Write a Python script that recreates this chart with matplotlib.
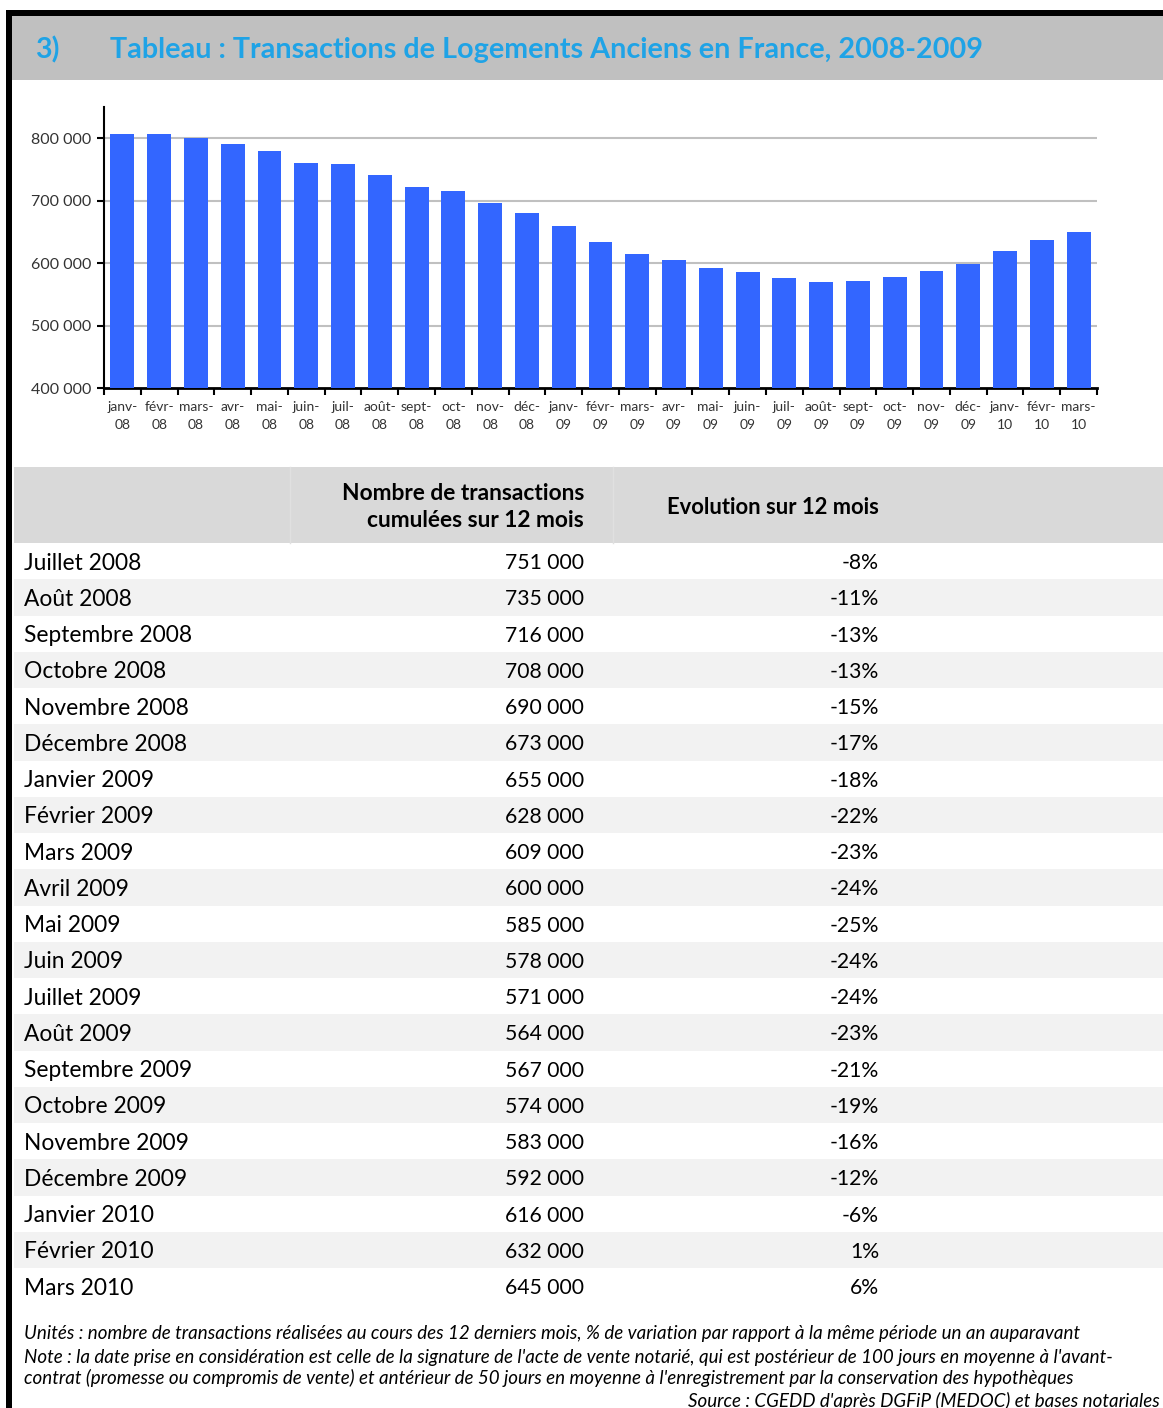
import matplotlib
matplotlib.use("Agg")
import matplotlib.pyplot as plt
from matplotlib.patches import Rectangle

plt.rcParams['font.family'] = ['Lato', 'DejaVu Sans']

# chart data (12-month cumulated transactions)
months = ['janv-\n08', 'févr-\n08', 'mars-\n08', 'avr-\n08', 'mai-\n08', 'juin-\n08',
          'juil-\n08', 'août-\n08', 'sept-\n08', 'oct-\n08', 'nov-\n08', 'déc-\n08',
          'janv-\n09', 'févr-\n09', 'mars-\n09', 'avr-\n09', 'mai-\n09', 'juin-\n09',
          'juil-\n09', 'août-\n09', 'sept-\n09', 'oct-\n09', 'nov-\n09', 'déc-\n09',
          'janv-\n10', 'févr-\n10', 'mars-\n10']
bar_values = [806000, 806000, 800000, 790000, 780000, 761000, 758000, 741000, 722000,
              715000, 696000, 680000, 660000, 634000, 615000, 605000, 592000, 585000,
              576000, 569000, 572000, 578000, 588000, 598000, 620000, 637000, 650000]
y_ticks = [400000, 500000, 600000, 700000, 800000]

# table data
row_labels = ['Juillet 2008', 'Août 2008', 'Septembre 2008', 'Octobre 2008', 'Novembre 2008',
              'Décembre 2008', 'Janvier 2009', 'Février 2009', 'Mars 2009', 'Avril 2009',
              'Mai 2009', 'Juin 2009', 'Juillet 2009', 'Août 2009', 'Septembre 2009',
              'Octobre 2009', 'Novembre 2009', 'Décembre 2009', 'Janvier 2010',
              'Février 2010', 'Mars 2010']
transactions = [751000, 735000, 716000, 708000, 690000, 673000, 655000, 628000, 609000,
                600000, 585000, 578000, 571000, 564000, 567000, 574000, 583000, 592000,
                616000, 632000, 645000]
evolution = [-8, -11, -13, -13, -15, -17, -18, -22, -23, -24, -25, -24, -24, -23, -21,
             -19, -16, -12, -6, 1, 6]


def fmt(v):
    return f"{v:,}".replace(",", " ")


W, H = 1163, 1408
fig = plt.figure(figsize=(W / 100, H / 100), dpi=100)

# background layer in pixel coordinates
bg = fig.add_axes([0, 0, 1, 1])
bg.set_xlim(0, W)
bg.set_ylim(H, 0)
bg.axis('off')

# frame and title band
bg.add_patch(Rectangle((12, 16), W - 12, 64, color='#c0c0c0', lw=0))
bg.add_patch(Rectangle((6, 10), W - 6, 6, color='black', lw=0))
bg.add_patch(Rectangle((6, 10), 6, H - 10, color='black', lw=0))
title_blue = '#1fa3e6'
bg.text(35, 50, '3)', color=title_blue, fontsize=20.5, fontweight='bold', va='center')
bg.text(110, 50, 'Tableau : Transactions de Logements Anciens en France, 2008-2009',
        color=title_blue, fontsize=20.7, fontweight='bold', va='center')

# table header
top, row_h = 467, 76
bg.add_patch(Rectangle((14, top), W - 14, row_h, color='#d9d9d9', lw=0))
for xs in (290, 613):
    bg.plot([xs, xs], [top, top + row_h], color='#e0e0e0', lw=1)
bg.text(584, 507, 'Nombre de transactions\ncumulées sur 12 mois', ha='right', va='center',
        fontsize=16.4, fontweight='bold', linespacing=1.3)
bg.text(879, 507, 'Evolution sur 12 mois', ha='right', va='center',
        fontsize=15.8, fontweight='bold')

# table rows
y0, rh = 543, 36.25
for i, lab in enumerate(row_labels):
    yt = y0 + i * rh
    if i % 2 == 1:
        bg.add_patch(Rectangle((14, yt), W - 14, rh, color='#f2f2f2', lw=0))
    yc = yt + rh / 2 + 2
    bg.text(24, yc, lab, va='center', fontsize=16.4)
    bg.text(584, yc, fmt(transactions[i]), va='center', ha='right', fontsize=15.2)
    bg.text(879, yc, f"{evolution[i]}%", va='center', ha='right', fontsize=15.2)

# footnotes
fs = 13.5
bg.text(24, 1333, "Unités : nombre de transactions réalisées au cours des 12 derniers mois, "
        "% de variation par rapport à la même période un an auparavant",
        va='center', fontsize=fs, style='italic')
bg.text(24, 1357, "Note : la date prise en considération est celle de la signature de l'acte de "
        "vente notarié, qui est postérieur de 100 jours en moyenne à l'avant-",
        va='center', fontsize=fs, style='italic')
bg.text(24, 1378, "contrat (promesse ou compromis de vente) et antérieur de 50 jours en moyenne "
        "à l'enregistrement par la conservation des hypothèques",
        va='center', fontsize=fs, style='italic')
bg.text(1160, 1401, "Source : CGEDD d'après DGFiP (MEDOC) et bases notariales",
        va='center', ha='right', fontsize=fs, style='italic')

# bar chart
ax = fig.add_axes([104 / W, 1 - 388 / H, (1097 - 104) / W, (388 - 107) / H])
ax.patch.set_alpha(0)
x = range(len(bar_values))
ax.bar(x, bar_values, width=0.65, color='#3366ff', zorder=3)
ax.set_xlim(-0.5, len(bar_values) - 0.5)
ax.set_ylim(400000, 850000)
ax.set_yticks(y_ticks)
ax.set_yticklabels([fmt(v) for v in y_ticks], fontsize=11.5, color='#333333')
for v in y_ticks[1:]:
    ax.axhline(v, color='#c0c0c0', lw=1.5, zorder=1)
ax.set_xticks(list(x))
ax.set_xticklabels(months, fontsize=10, color='#333333', linespacing=1.6)
ax.set_xticks([i - 0.5 for i in range(len(bar_values) + 1)], minor=True)
ax.tick_params(axis='x', which='major', length=0, pad=9)
ax.tick_params(axis='x', which='minor', length=5, width=1.5, direction='out')
ax.tick_params(axis='y', length=5, width=1.5, direction='out', pad=4)
for s in ('top', 'right'):
    ax.spines[s].set_visible(False)
ax.spines['left'].set_linewidth(1.5)
ax.spines['bottom'].set_linewidth(2)

fig.savefig('out.png', dpi=100)
